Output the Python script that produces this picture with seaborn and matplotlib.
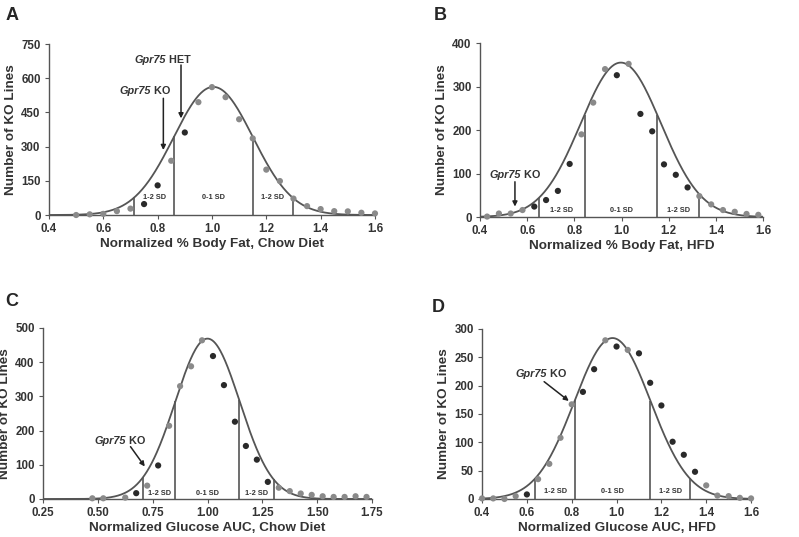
import numpy as np
import pandas as pd
import matplotlib.pyplot as plt
import seaborn as sns
from matplotlib.ticker import FormatStrFormatter

sns.set_style("ticks")
plt.rcParams['font.family'] = ['Liberation Sans', 'DejaVu Sans']
plt.rcParams['font.weight'] = 'bold'

# --- Panel A: % body fat, chow diet
a_x = [0.50, 0.55, 0.60, 0.65, 0.70, 0.75, 0.80, 0.85, 0.90, 0.95, 1.00, 1.05,
       1.10, 1.15, 1.20, 1.25, 1.30, 1.35, 1.40, 1.45, 1.50, 1.55, 1.60]
a_y = [0, 3, 5, 17, 28, 48, 130, 238, 362, 495, 561, 517,
       420, 336, 199, 149, 72, 39, 26, 17, 16, 10, 7]
a_dark = [0, 0, 0, 0, 0, 1, 1, 0, 1, 0, 0, 0, 0, 0, 0, 0, 0, 0, 0, 0, 0, 0, 0]
a_fit = (562, 1.005, 0.146)
a_cuts = [0.714, 0.861, 1.152, 1.297]

# --- Panel B: % body fat, HFD
b_x = [0.43, 0.48, 0.53, 0.58, 0.63, 0.68, 0.73, 0.78, 0.83, 0.88, 0.93, 0.98,
       1.03, 1.08, 1.13, 1.18, 1.23, 1.28, 1.33, 1.38, 1.43, 1.48, 1.53, 1.58]
b_y = [1, 8, 8, 16, 24, 39, 60, 122, 190, 263, 340, 326,
       352, 237, 197, 121, 97, 68, 48, 29, 16, 12, 7, 5]
b_dark = [0, 0, 0, 0, 1, 1, 1, 1, 0, 0, 0, 1, 0, 1, 1, 1, 1, 1, 0, 0, 0, 0, 0, 0]
b_fit = (355, 0.997, 0.170)
b_cuts = [0.651, 0.843, 1.152, 1.328]

# --- Panel C: glucose AUC, chow diet
c_x = [0.475, 0.525, 0.625, 0.675, 0.725, 0.775, 0.825, 0.875, 0.925, 0.975, 1.025,
       1.075, 1.125, 1.175, 1.225, 1.275, 1.325, 1.375, 1.425, 1.475, 1.525, 1.575,
       1.625, 1.675, 1.725]
c_y = [2, 2, 4, 17, 39, 98, 214, 330, 388, 464, 418,
       333, 226, 155, 115, 50, 33, 23, 16, 12, 8, 6, 6, 8, 6]
c_dark = [0, 0, 0, 1, 0, 1, 0, 0, 0, 0, 1, 1, 1, 1, 1, 1, 0, 0, 0, 0, 0, 0, 0, 0, 0]
c_fit = (469, 1.000, 0.147)
c_cuts = [0.707, 0.854, 1.144, 1.301]

# --- Panel D: glucose AUC, HFD
d_x = [0.40, 0.45, 0.50, 0.55, 0.60, 0.65, 0.70, 0.75, 0.80, 0.85, 0.90, 0.95, 1.00,
       1.05, 1.10, 1.15, 1.20, 1.25, 1.30, 1.35, 1.40, 1.45, 1.50, 1.55, 1.60]
d_y = [1, 1, 0, 5, 8, 35, 62, 108, 167, 189, 229, 280, 269,
       263, 257, 205, 165, 101, 78, 48, 24, 6, 5, 2, 1]
d_dark = [0, 0, 0, 0, 1, 0, 0, 0, 0, 1, 1, 0, 1, 0, 1, 1, 1, 1, 1, 1, 0, 0, 0, 0, 0]
d_fit = (284, 0.982, 0.170)
d_cuts = [0.636, 0.815, 1.151, 1.326]

GRAY = '#8a8a8a'
DARK = '#2a2a2a'
LINE = '#555555'


def gauss(x, fit):
    amp, mu, sd = fit
    return amp * np.exp(-0.5 * ((np.asarray(x) - mu) / sd) ** 2)


def draw_panel(ax, xs, ys, dark, fit, cuts, xlim, ylim, xticks, yticks, xfmt, xlabel, sd_y):
    df = pd.DataFrame({'x': xs, 'y': ys,
                       'grp': ['dark' if d else 'gray' for d in dark]})
    grid = np.linspace(xlim[0], xlim[1], 400)
    sns.lineplot(x=grid, y=gauss(grid, fit), ax=ax, color=LINE, lw=1.3, zorder=2)
    ax.vlines(cuts, 0, gauss(cuts, fit), color=LINE, lw=1.2, zorder=2)
    sns.scatterplot(data=df, x='x', y='y', hue='grp', ax=ax,
                    palette={'gray': GRAY, 'dark': DARK}, s=20,
                    edgecolor='none', legend=False, zorder=3, clip_on=False)
    mids = [(cuts[0] + cuts[1]) / 2, (cuts[1] + cuts[2]) / 2, (cuts[2] + cuts[3]) / 2]
    for m, lab in zip(mids, ['1-2 SD', '0-1 SD', '1-2 SD']):
        ax.text(m, sd_y, lab, fontsize=5.3, ha='center', va='center', fontweight='bold',
                color='#333333')
    ax.set_xlim(xlim)
    ax.set_ylim(ylim)
    ax.set_xticks(xticks)
    ax.set_yticks(yticks)
    ax.xaxis.set_major_formatter(FormatStrFormatter(xfmt))
    ax.set_xlabel(xlabel, fontsize=9.7, fontweight='bold', color='#333333', labelpad=2)
    ax.set_ylabel('Number of KO Lines', fontsize=9.7, fontweight='bold', color='#333333', labelpad=3)
    sns.despine(ax=ax)
    for s in ['left', 'bottom']:
        ax.spines[s].set_color(LINE)
        ax.spines[s].set_linewidth(1.0)
    ax.tick_params(labelsize=8.3, length=3, width=0.8, color=LINE, pad=3, labelcolor='#333333')
    for t in ax.get_xticklabels() + ax.get_yticklabels():
        t.set_fontweight('bold')


def gene_label(ax, x, y, suffix):
    ax.text(x, y, 'Gpr75', fontsize=7.8, style='italic', fontweight='bold',
            ha='right', va='center', color='#333333')
    ax.text(x, y, ' ' + suffix, fontsize=7.8, fontweight='bold',
            ha='left', va='center', color='#333333')


def arrow(ax, start, end):
    ax.annotate('', xy=end, xytext=start,
                arrowprops=dict(arrowstyle='-|>', color='#222222', lw=1.1,
                                mutation_scale=7, shrinkA=0, shrinkB=0))


fig = plt.figure(figsize=(7.99, 5.37), dpi=100)
axA = fig.add_axes([0.0613, 0.5996, 0.408, 0.3184])
axB = fig.add_axes([0.6008, 0.5959, 0.3542, 0.324])
axC = fig.add_axes([0.0538, 0.0708, 0.4118, 0.3184])
axD = fig.add_axes([0.6033, 0.0708, 0.3367, 0.3166])

draw_panel(axA, a_x, a_y, a_dark, a_fit, a_cuts, (0.4, 1.6), (0, 750),
           np.arange(0.4, 1.61, 0.2), np.arange(0, 751, 150), '%.1f',
           'Normalized % Body Fat, Chow Diet', 77)
draw_panel(axB, b_x, b_y, b_dark, b_fit, b_cuts, (0.4, 1.6), (0, 400),
           np.arange(0.4, 1.61, 0.2), np.arange(0, 401, 100), '%.1f',
           'Normalized % Body Fat, HFD', 15)
draw_panel(axC, c_x, c_y, c_dark, c_fit, c_cuts, (0.25, 1.75), (0, 500),
           np.arange(0.25, 1.76, 0.25), np.arange(0, 501, 100), '%.2f',
           'Normalized Glucose AUC, Chow Diet', 16)
draw_panel(axD, d_x, d_y, d_dark, d_fit, d_cuts, (0.4, 1.6), (0, 300),
           np.arange(0.4, 1.61, 0.2), np.arange(0, 301, 50), '%.1f',
           'Normalized Glucose AUC, HFD', 14)

# annotations
gene_label(axA, 0.83, 680, 'HET')
arrow(axA, (0.886, 658), (0.886, 424))
gene_label(axA, 0.775, 545, 'KO')
arrow(axA, (0.821, 512), (0.821, 285))

gene_label(axB, 0.575, 97, 'KO')
arrow(axB, (0.548, 81), (0.548, 24))

gene_label(axC, 0.63, 171, 'KO')
arrow(axC, (0.649, 153), (0.714, 95))

gene_label(axD, 0.69, 220, 'KO')
arrow(axD, (0.677, 207), (0.787, 173))

for lab, (x, y) in zip('ABCD', [(12, 15), (440, 15), (12, 302), (438, 307)]):
    fig.text(x / 799, 1 - y / 537, lab, fontsize=13, fontweight='bold',
             ha='center', va='center')

fig.savefig('out.png', dpi=100)
